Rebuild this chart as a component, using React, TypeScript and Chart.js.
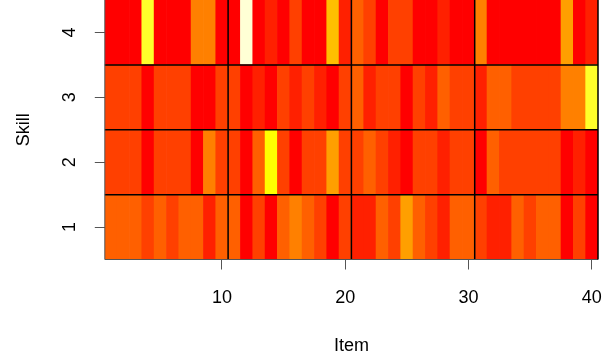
import React, { useEffect, useRef } from "react";
import { Chart, registerables } from "chart.js";

Chart.register(...registerables);

// heat.colors(12) palette, index = level
const PALETTE = [
  "#FF0000", "#FF2000", "#FF4000", "#FF6000", "#FF8000", "#FF9F00",
  "#FFBF00", "#FFDF00", "#FFFF00", "#FFFF2A", "#FFFF80", "#FFFFD5",
];

const ITEMS = Array.from({ length: 40 }, (_, i) => i + 1);
const SKILLS = [1, 2, 3, 4];
const X_TICKS = [10, 20, 30, 40];
const Y_TICKS = [1, 2, 3, 4];
const X_DIVIDERS = [10.5, 20.5, 30.5];
const Y_DIVIDERS = [1.5, 2.5, 3.5];

const SKILL1 = [3, 3, 3, 2, 3, 2, 3, 3, 1, 3, 3, 0, 2, 0, 3, 4, 3, 2, 0, 2, 1, 1, 3, 2, 5, 3, 2, 1, 3, 3, 2, 1, 1, 3, 2, 3, 3, 0, 2, 0];
const SKILL2 = [2, 2, 2, 0, 2, 2, 2, 0, 4, 2, 2, 0, 3, 8, 2, 0, 2, 2, 5, 2, 2, 3, 2, 1, 0, 2, 2, 1, 2, 2, 0, 3, 2, 2, 2, 2, 2, 0, 1, 0];
const SKILL3 = [2, 2, 2, 0, 2, 2, 2, 0, 0, 2, 2, 0, 1, 0, 2, 1, 2, 1, 0, 2, 3, 1, 2, 2, 0, 2, 1, 3, 2, 2, 1, 3, 3, 2, 2, 2, 2, 4, 4, 9];
const SKILL4 = [0, 0, 0, 9, 0, 0, 0, 4, 4, 0, 0, 11, 0, 1, 0, 2, 0, 0, 6, 1, 3, 2, 0, 2, 2, 0, 0, 1, 0, 0, 4, 0, 0, 0, 0, 0, 0, 5, 0, 1];

const LEVELS = [SKILL1, SKILL2, SKILL3, SKILL4];

const FONT = "'Liberation Sans', Arial, Helvetica, sans-serif";

const overlayPlugin = {
  id: "overlay",
  afterDatasetsDraw(chart: any) {
    const { ctx, chartArea, scales } = chart;
    const xs = scales.x;
    const ys = scales.y;
    ctx.save();
    ctx.strokeStyle = "#000";
    ctx.lineWidth = 1.5;
    ctx.beginPath();
    X_DIVIDERS.forEach((v) => {
      const px = xs.getPixelForValue(v);
      ctx.moveTo(px, chartArea.top);
      ctx.lineTo(px, chartArea.bottom);
    });
    Y_DIVIDERS.forEach((v) => {
      const py = ys.getPixelForValue(v);
      ctx.moveTo(chartArea.left, py);
      ctx.lineTo(chartArea.right, py);
    });
    ctx.stroke();
    ctx.lineWidth = 1;
    ctx.strokeStyle = "#555";
    ctx.beginPath();
    ctx.moveTo(chartArea.left, chartArea.top);
    ctx.lineTo(chartArea.left, chartArea.bottom);
    ctx.lineTo(chartArea.right, chartArea.bottom);
    ctx.stroke();
    ctx.strokeStyle = "#000";
    ctx.lineWidth = 1.5;
    ctx.beginPath();
    ctx.moveTo(chartArea.right, chartArea.top);
    ctx.lineTo(chartArea.right, chartArea.bottom);
    ctx.stroke();
    ctx.restore();
  },
};

export default function App() {
  const ref = useRef<HTMLCanvasElement | null>(null);

  useEffect(() => {
    document.body.style.margin = "0";
    const canvas = ref.current;
    if (!canvas) return;
    const datasets = SKILLS.map((k, si) => ({
      label: "Skill " + k,
      data: ITEMS.map((it) => ({ x: it, y: [k - 0.5, k + 0.5] })),
      backgroundColor: LEVELS[si].map((l) => PALETTE[l]),
      borderWidth: 0,
      grouped: false,
      barPercentage: 1,
      categoryPercentage: 1,
    }));
    const chart = new Chart(canvas, {
      type: "bar",
      data: { datasets } as any,
      plugins: [overlayPlugin],
      options: {
        animation: false,
        responsive: false,
        devicePixelRatio: 1,
        layout: { padding: { left: 0, right: 13, top: 0, bottom: 0 } },
        plugins: { legend: { display: false }, tooltip: { enabled: false } },
        scales: {
          x: {
            type: "linear",
            position: "bottom",
            offset: false,
            min: 0.5,
            max: 40.5,
            afterBuildTicks: (s: any) => {
              s.ticks = X_TICKS.map((v) => ({ value: v }));
            },
            afterFit: (s: any) => {
              s.height = 100.5;
              s.paddingLeft = 0;
              s.paddingRight = 0;
            },
            ticks: {
              autoSkip: false,
              maxRotation: 0,
              padding: 18,
              color: "#000",
              font: { family: FONT, size: 18 },
            },
            grid: { offset: false, drawOnChartArea: false, drawTicks: true, tickLength: 10, color: "#555" },
            border: { display: false },
            title: {
              display: true,
              text: "Item",
              color: "#000",
              font: { family: FONT, size: 18 },
              padding: { top: 0, bottom: 3 },
            },
          },
          y: {
            type: "linear",
            offset: false,
            min: 0.5,
            max: 4.5,
            afterBuildTicks: (s: any) => {
              s.ticks = Y_TICKS.map((v) => ({ value: v }));
            },
            afterFit: (s: any) => {
              s.width = 104.8;
              s.paddingTop = 0;
              s.paddingBottom = 0;
            },
            ticks: {
              autoSkip: false,
              minRotation: 90,
              maxRotation: 90,
              crossAlign: "center",
              padding: 20,
              color: "#000",
              font: { family: FONT, size: 18 },
            },
            grid: { offset: false, drawOnChartArea: false, drawTicks: true, tickLength: 10, color: "#555" },
            border: { display: false },
            title: {
              display: true,
              text: "Skill",
              color: "#000",
              font: { family: FONT, size: 18 },
              padding: { top: 13, bottom: 0 },
            },
          },
        },
      } as any,
    });
    return () => chart.destroy();
  }, []);

  return <canvas ref={ref} width={611} height={360} style={{ display: "block" }} />;
}
